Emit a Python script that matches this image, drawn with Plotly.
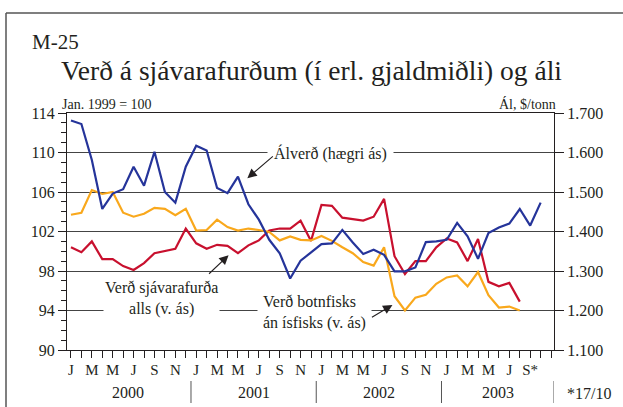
import plotly.graph_objects as go

# ---- data (monthly, Jan 2000 .. ) ----
month_letters = ["J", "F", "M", "A", "M", "J", "J", "Á", "S", "O", "N", "D"]
years = ["2000", "2001", "2002", "2003"]

# Álverð, $/tonn (right axis), Jan 2000 - Oct 2003
alverd = [1681, 1672, 1581, 1457, 1496, 1507, 1564, 1516, 1602, 1500, 1473, 1564,
          1617, 1605, 1510, 1497, 1539, 1469, 1430, 1379, 1345, 1281, 1326, 1348,
          1368, 1370, 1404, 1372, 1343, 1354, 1341, 1299, 1299, 1309, 1373, 1375,
          1379, 1422, 1388, 1331, 1396, 1410, 1420, 1457, 1415, 1473]

# Verð sjávarafurða alls (left axis, Jan 1999 = 100), Jan 2000 - Aug 2003
sjavarafurdir = [100.4, 99.9, 101.0, 99.2, 99.2, 98.5, 98.1, 98.8, 99.8, 100.0, 100.25, 102.3,
                 100.8, 100.25, 100.65, 100.55, 99.8, 100.6, 101.1, 102.1, 102.3, 102.3, 103.1, 101.05,
                 104.7, 104.6, 103.4, 103.25, 103.1, 103.5, 105.3, 99.5, 97.7, 99.0, 99.0, 100.4,
                 101.3, 100.9, 99.0, 101.25, 96.9, 96.45, 96.8, 94.9]

# Verð botnfisks án ísfisks (left axis), Jan 2000 - Aug 2003
botnfiskur = [103.7, 103.9, 106.2, 105.8, 106.0, 103.9, 103.5, 103.8, 104.4, 104.3, 103.65, 104.3,
              102.1, 102.15, 103.2, 102.45, 102.1, 102.3, 102.15, 101.95, 101.1, 101.5, 101.15, 101.1,
              101.55, 101.05, 100.4, 99.8, 98.9, 98.55, 100.4, 95.45, 94.0, 95.3, 95.6, 96.7,
              97.35, 97.55, 96.45, 97.9, 95.55, 94.3, 94.4, 94.0]

left_ticks = [90, 94, 98, 102, 106, 110, 114]
right_ticks = [1100, 1200, 1300, 1400, 1500, 1600, 1700]
right_ticktext = ["1.100", "1.200", "1.300", "1.400", "1.500", "1.600", "1.700"]
n_ticks = 47  # monthly tick marks Jan 2000 .. Nov 2003

x_al = list(range(len(alverd)))
x_sj = list(range(len(sjavarafurdir)))
x_bf = list(range(len(botnfiskur)))

month_ticktext = []
for i in range(n_ticks):
    if i % 2 == 0 and i <= 44:
        lab = month_letters[i % 12]
        if i == 44:
            lab = "S*"
        month_ticktext.append(lab)
    else:
        month_ticktext.append("")

BLUE = "#25349a"
RED = "#c8102e"
ORANGE = "#f9a81c"
SERIF = "Liberation Serif"
TXT = "#231f20"


def F(size):
    return dict(family=SERIF, size=size, color=TXT)


fig = go.Figure()
fig.add_trace(go.Scatter(x=x_sj, y=sjavarafurdir, mode="lines",
                         line=dict(color=RED, width=2.2), yaxis="y", showlegend=False))
fig.add_trace(go.Scatter(x=x_bf, y=botnfiskur, mode="lines",
                         line=dict(color=ORANGE, width=2.2), yaxis="y", showlegend=False))
fig.add_trace(go.Scatter(x=x_al, y=alverd, mode="lines",
                         line=dict(color=BLUE, width=2.2), yaxis="y2", showlegend=False))

W, H = 623, 407
L, R, T, B = 67, 554, 113, 350


def px(xp):
    return (xp - L) / (R - L)


def py(yp):
    return (B - yp) / (B - T)


fig.update_layout(
    width=W, height=H,
    margin=dict(l=L, r=W - R, t=T, b=H - B, pad=0),
    paper_bgcolor="white", plot_bgcolor="white",
    font=F(16),
    xaxis=dict(range=[-0.38, 46.28], tickmode="array", tickvals=list(range(n_ticks)),
               ticktext=month_ticktext, ticks="outside", ticklen=7, tickcolor=TXT,
               tickfont=F(15), showgrid=False,
               showline=True, linecolor=TXT, linewidth=1, mirror=True, zeroline=False,
               ticklabelstandoff=-1),
    yaxis=dict(range=[90, 114], tickmode="array", tickvals=left_ticks,
               ticks="outside", ticklen=8, tickcolor=TXT,
               minor=dict(dtick=1, ticks="outside", ticklen=5, tickcolor=TXT, showgrid=False),
               tickfont=F(16),
               showgrid=True, gridcolor="#444444", gridwidth=1,
               showline=True, linecolor=TXT, linewidth=1, zeroline=False),
    yaxis2=dict(range=[1100, 1700], overlaying="y", side="right", tickmode="array",
                tickvals=right_ticks, ticktext=right_ticktext, ticks="outside", ticklen=9,
                tickcolor=TXT, tickfont=F(16),
                showgrid=False, showline=True, linecolor=TXT, linewidth=1, zeroline=False),
)

ann = []
# header texts
ann.append(dict(xref="paper", yref="paper", x=px(30), y=py(42), text="M-25", showarrow=False,
                xanchor="left", yanchor="middle", font=F(21)))
ann.append(dict(xref="paper", yref="paper", x=px(59), y=py(71),
                text="Verð á sjávarafurðum (í erl. gjaldmiðli) og áli", showarrow=False,
                xanchor="left", yanchor="middle", font=F(27.5)))
ann.append(dict(xref="paper", yref="paper", x=px(60), y=py(104), text="Jan. 1999 = 100",
                showarrow=False, xanchor="left", yanchor="middle", font=F(14)))
ann.append(dict(xref="paper", yref="paper", x=px(558), y=py(104), text="Ál, $/tonn",
                showarrow=False, xanchor="right", yanchor="middle", font=F(14)))

# series labels (white boxes break the grid lines)
ann.append(dict(xref="x", yref="y", x=24.85, y=109.85, text="Álverð (hægri ás)",
                showarrow=False, bgcolor="white", borderpad=6, font=F(16)))
ann.append(dict(xref="x", yref="y", x=8.65, y=95.25, text="Verð sjávarafurða<br>alls (v. ás)",
                showarrow=False, bgcolor="white", borderpad=1, font=F(16)))
ann.append(dict(xref="x", yref="y", x=23.3, y=93.75, text="Verð botnfisks<br>án ísfisks (v. ás)",
                showarrow=False, align="left", bgcolor="white", borderpad=5, font=F(16)))

# arrows
for (hx, hy, ax, ay) in [(16.9, 107.4, 27, -23), (15.1, 99.6, -21, 20), (30.8, 94.55, -22, 13)]:
    ann.append(dict(xref="x", yref="y", x=hx, y=hy, text="", showarrow=True, ax=ax, ay=ay,
                    arrowhead=2, arrowsize=1.7, arrowwidth=1.1, arrowcolor=TXT, standoff=0))

# year labels
for yr, xc in zip(years, [5.5, 17.5, 29.5, 40.9]):
    ann.append(dict(xref="x", yref="paper", x=xc, y=py(392), text=yr, showarrow=False,
                    yanchor="middle", font=F(16)))
ann.append(dict(xref="paper", yref="paper", x=px(565), y=py(393), text="*17/10", showarrow=False,
                xanchor="left", yanchor="middle", font=F(16)))
fig.update_layout(annotations=ann)

shapes = []
for xd in [-0.5, 11.5, 23.5, 35.5, 46.28]:
    shapes.append(dict(type="line", xref="x", yref="paper", x0=xd, x1=xd, y0=py(381), y1=py(403),
                       line=dict(color="#555555", width=1)))
# outer frame
shapes.append(dict(type="line", xref="paper", yref="paper", x0=px(6), x1=px(6), y0=py(13), y1=py(420),
                   line=dict(color="#555555", width=1.5)))
shapes.append(dict(type="line", xref="paper", yref="paper", x0=px(6), x1=px(640), y0=py(13), y1=py(13),
                   line=dict(color="#555555", width=1.5)))
fig.update_layout(shapes=shapes)

fig.write_html("out.html", config={"displayModeBar": False},
               post_script="document.body.style.margin='0';document.body.style.padding='0';")
